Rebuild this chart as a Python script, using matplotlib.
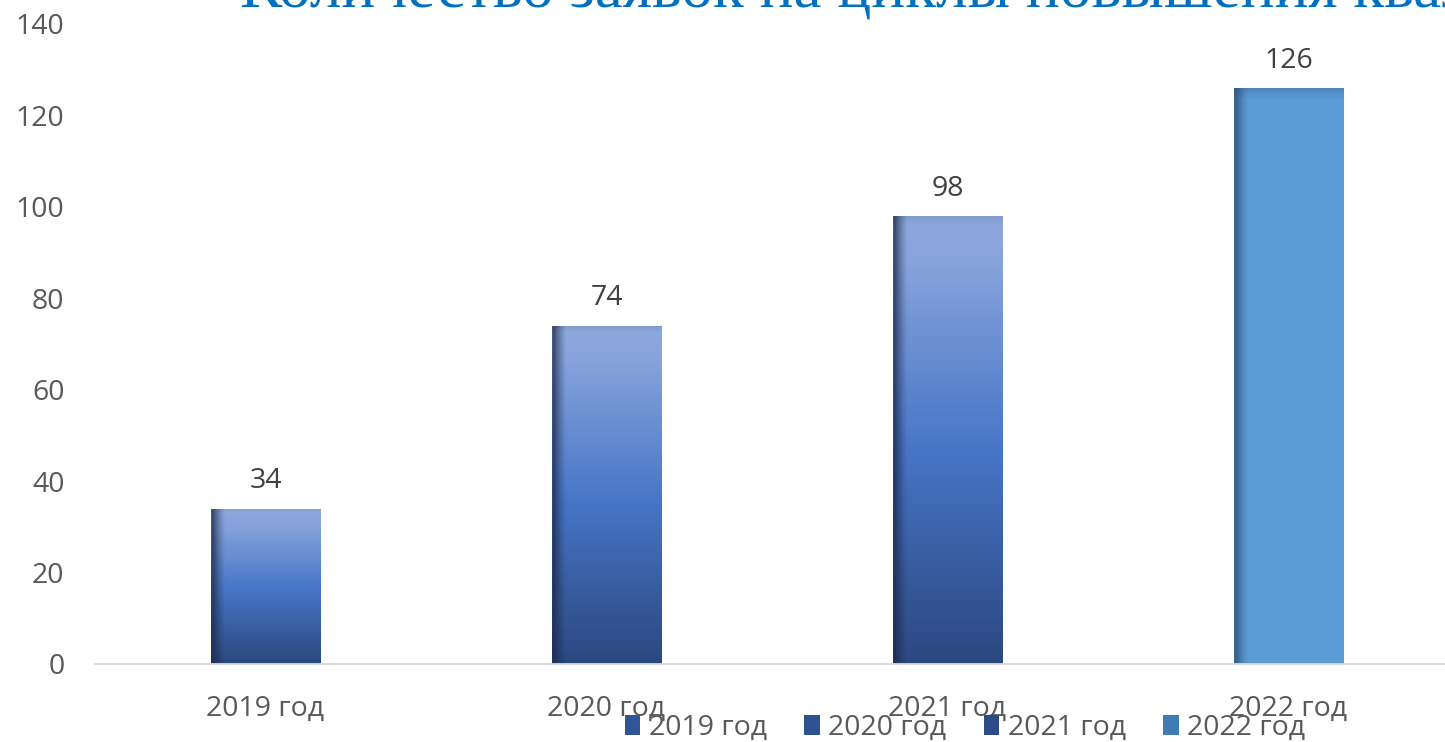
import numpy as np
import matplotlib
matplotlib.use("Agg")
import matplotlib.pyplot as plt
from matplotlib.patches import Patch

categories = ["2019 год", "2020 год", "2021 год", "2022 год"]
values = [34, 74, 98, 126]
y_ticks = [0, 20, 40, 60, 80, 100, 120, 140]
title = "Количество заявок на циклы повышения квалификации"

plt.rcParams['font.family'] = ['Open Sans', 'DejaVu Sans']

W, H = 1445, 742
fig = plt.figure(figsize=(W / 100, H / 100), dpi=100)
ax = fig.add_axes([95 / W, 78 / H, (1459 - 95) / W, 640 / H])

x = np.arange(len(categories))
bars = ax.bar(x, values, width=0.32, color="#4472C4", zorder=2, linewidth=0)

# gradient fills
def vgrad(stops, n):
    pos = np.array([s[0] for s in stops])
    cols = np.array([s[1] for s in stops])
    t = np.linspace(0, 1, n)
    return np.stack([np.interp(t, pos, cols[:, k]) for k in range(3)], axis=1)

blue_stops = [(0.0, (0.50, 0.60, 0.80)), (0.02, (0.55, 0.66, 0.86)),
              (0.10, (0.53, 0.64, 0.86)),
              (0.52, (0.28, 0.46, 0.78)), (1.0, (0.17, 0.28, 0.50))]
flat_stops = [(0.0, (0.30, 0.52, 0.74)), (0.02, (0.36, 0.61, 0.84)),
              (1.0, (0.36, 0.61, 0.84))]

for i, patch in enumerate(bars.patches):
    x0, y0 = patch.get_x(), patch.get_y()
    w, h = patch.get_width(), patch.get_height()
    nrow, ncol = 300, 200
    if i < 3:
        col = vgrad(blue_stops, nrow)
        dark = np.array([0.10, 0.15, 0.27])
    else:
        col = vgrad(flat_stops, nrow)
        dark = np.array([0.17, 0.29, 0.42])
    img = np.repeat(col[:, None, :], ncol, axis=1)
    xs = np.arange(ncol) / ncol
    ws = 0.13
    s = np.clip(1 - xs / ws, 0, 1) ** 1.3 * 0.85
    s[:2] *= 0.7
    img = img * (1 - s[None, :, None]) + dark[None, None, :] * s[None, :, None]
    im = ax.imshow(img, extent=(x0, x0 + w, y0, y0 + h), origin="upper",
                   aspect="auto", zorder=3, interpolation="bilinear")
    im.set_clip_path(patch)
    ax.text(x[i], values[i] + 6.0, str(values[i]), ha="center", va="center",
            fontsize=20.5, color="#404040", zorder=4)

ax.set_xlim(-0.5, 3.5)
ax.set_ylim(0, 140)
ax.set_xticks(x)
ax.set_xticklabels(categories)
ax.set_yticks(y_ticks)
ax.tick_params(axis="y", length=0, pad=22, labelsize=20.5, labelcolor="#595959")
ax.tick_params(axis="x", length=0, pad=22, labelsize=20.5, labelcolor="#595959")
for sp in ["top", "right", "left"]:
    ax.spines[sp].set_visible(False)
ax.spines["bottom"].set_color("#D9D9D9")
ax.spines["bottom"].set_linewidth(1.3)
ax.spines["bottom"].set_zorder(5)

fig.text(240 / W, 1 - 7 / H, title, family=["Liberation Serif", "DejaVu Serif"],
         fontsize=45.5, color="#0070C0", ha="left", va="baseline")

leg_colors = ["#2F5597", "#2E5290", "#2C4C88", "#3E7CB1"]
handles = [Patch(facecolor=c, edgecolor="none") for c in leg_colors]
fig.legend(handles, categories, loc="center", bbox_to_anchor=(965 / W, 1 - 728 / H),
           ncol=4, frameon=False, fontsize=20.5, handlelength=0.55, handleheight=0.7,
           handletextpad=0.3, columnspacing=1.3, borderpad=0, labelcolor="#595959")

fig.savefig("out.png", dpi=100)
